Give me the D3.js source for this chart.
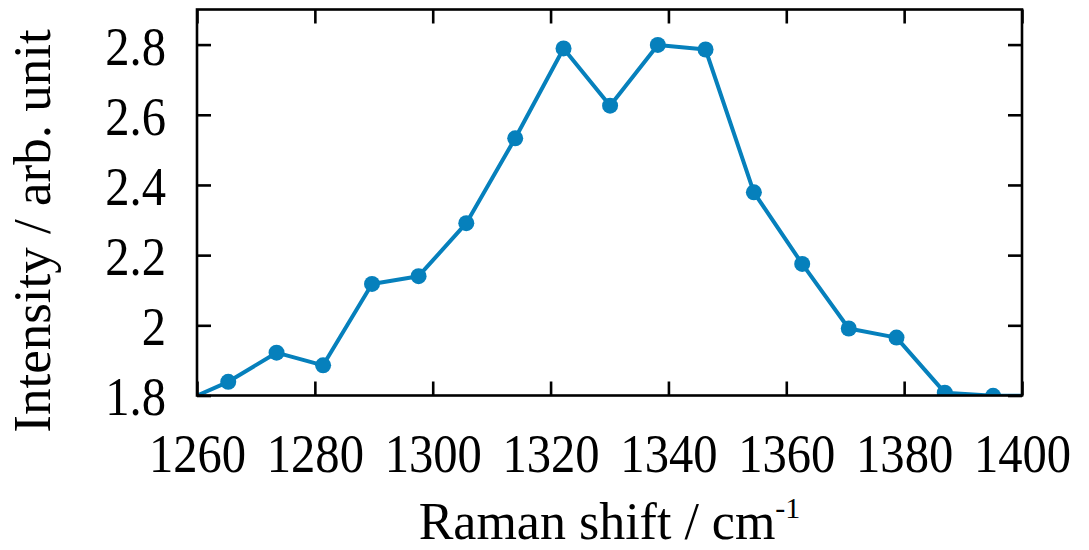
<!DOCTYPE html>
<html>
<head>
<meta charset="utf-8">
<script src="https://cdn.jsdelivr.net/npm/d3@7"></script>
<style>
  html, body { margin: 0; padding: 0; background: #ffffff; }
  svg { display: block; }
  text { font-family: "Liberation Serif", "Times New Roman", serif; fill: #000; }
</style>
</head>
<body>
<svg id="chart" width="1089" height="550"></svg>
<script>
// Raman shift (cm^-1) and intensity (arb. unit)
const ramanShift = [1257.2, 1265.3, 1273.5, 1281.4, 1289.7, 1297.6, 1305.7, 1314.0, 1322.2, 1330.1,
                    1338.2, 1346.3, 1354.5, 1362.7, 1370.6, 1378.7, 1386.9, 1395.1, 1403.3];
const intensity  = [1.779, 1.839, 1.922, 1.886, 2.118, 2.140, 2.291, 2.533, 2.789, 2.626,
                    2.799, 2.786, 2.379, 2.175, 1.991, 1.965, 1.808, 1.799, 1.800];
const xTicks = [1260, 1280, 1300, 1320, 1340, 1360, 1380, 1400];
const yTicks = [1.8, 2.0, 2.2, 2.4, 2.6, 2.8];
const xDomain = [1260, 1400];
const yDomain = [1.8, 2.9];

(function () {
const svg = d3.select("#chart");
const pl = 197, pr = 1022, pt = 9.5, pb = 395.5;
const x = d3.scaleLinear().domain(xDomain).range([pl, pr]);
const y = d3.scaleLinear().domain(yDomain).range([pb, pt]);
const color = "#0680bc";
const serif = "Liberation Serif, Times New Roman, serif";
const sx = 0.9;

svg.append("clipPath").attr("id", "clip")
  .append("rect").attr("x", pl).attr("y", pt).attr("width", pr - pl).attr("height", pb - pt);

const data = ramanShift.map((d, i) => ({ x: d, y: intensity[i] }));
const g = svg.append("g").attr("clip-path", "url(#clip)");
g.append("path").datum(data)
  .attr("fill", "none").attr("stroke", color).attr("stroke-width", 4).attr("stroke-linejoin", "round")
  .attr("d", d3.line().x(d => x(d.x)).y(d => y(d.y)));
g.selectAll("circle").data(data).enter().append("circle")
  .attr("cx", d => x(d.x)).attr("cy", d => y(d.y)).attr("r", 8).attr("fill", color);

const tickLen = 14;
const fmtY = d => (Math.abs(d - 2) < 1e-9 ? "2" : d3.format(".1f")(d));

const xb = svg.append("g").attr("transform", `translate(0,${pb})`)
  .call(d3.axisBottom(x).tickValues(xTicks).tickSize(-tickLen).tickPadding(0).tickFormat(d3.format("d")));
xb.attr("font-family", serif);
xb.selectAll("text").attr("font-size", 54).attr("dy", null).attr("y", 77)
  .attr("transform", `scale(${sx},1)`);
const xt = svg.append("g").attr("transform", `translate(0,${pt})`)
  .call(d3.axisTop(x).tickValues(xTicks).tickSize(-tickLen).tickFormat(""));
const yl = svg.append("g").attr("transform", `translate(${pl},0)`)
  .call(d3.axisLeft(y).tickValues(yTicks).tickSize(-tickLen).tickPadding(0).tickFormat(fmtY));
yl.attr("font-family", serif);
yl.selectAll("text").attr("font-size", 54).attr("dy", "0.36em").attr("x", -31 / sx)
  .attr("transform", `scale(${sx},1)`);
const yr = svg.append("g").attr("transform", `translate(${pr},0)`)
  .call(d3.axisRight(y).tickValues(yTicks).tickSize(-tickLen).tickFormat(""));

[xb, xt, yl, yr].forEach(a => {
  a.select(".domain").remove();
  a.selectAll(".tick line").attr("stroke", "#000").attr("stroke-width", 2.6);
  a.selectAll("text").attr("fill", "#000");
});

svg.append("rect").attr("x", pl).attr("y", pt).attr("width", pr - pl).attr("height", pb - pt)
  .attr("fill", "none").attr("stroke", "#000").attr("stroke-width", 2.6);

const xt1 = svg.append("text").attr("x", (pl + pr) / 2).attr("y", 538.5).attr("text-anchor", "middle")
  .attr("font-size", 52).attr("font-family", serif);
xt1.append("tspan").text("Raman shift / cm");
xt1.append("tspan").text("-1").attr("font-size", 30).attr("dy", -21);

svg.append("text").attr("transform", `translate(50,231) rotate(-90)`).attr("text-anchor", "middle")
  .attr("font-size", 53).attr("font-family", serif).text("Intensity / arb. unit");
})();
</script>
</body>
</html>
